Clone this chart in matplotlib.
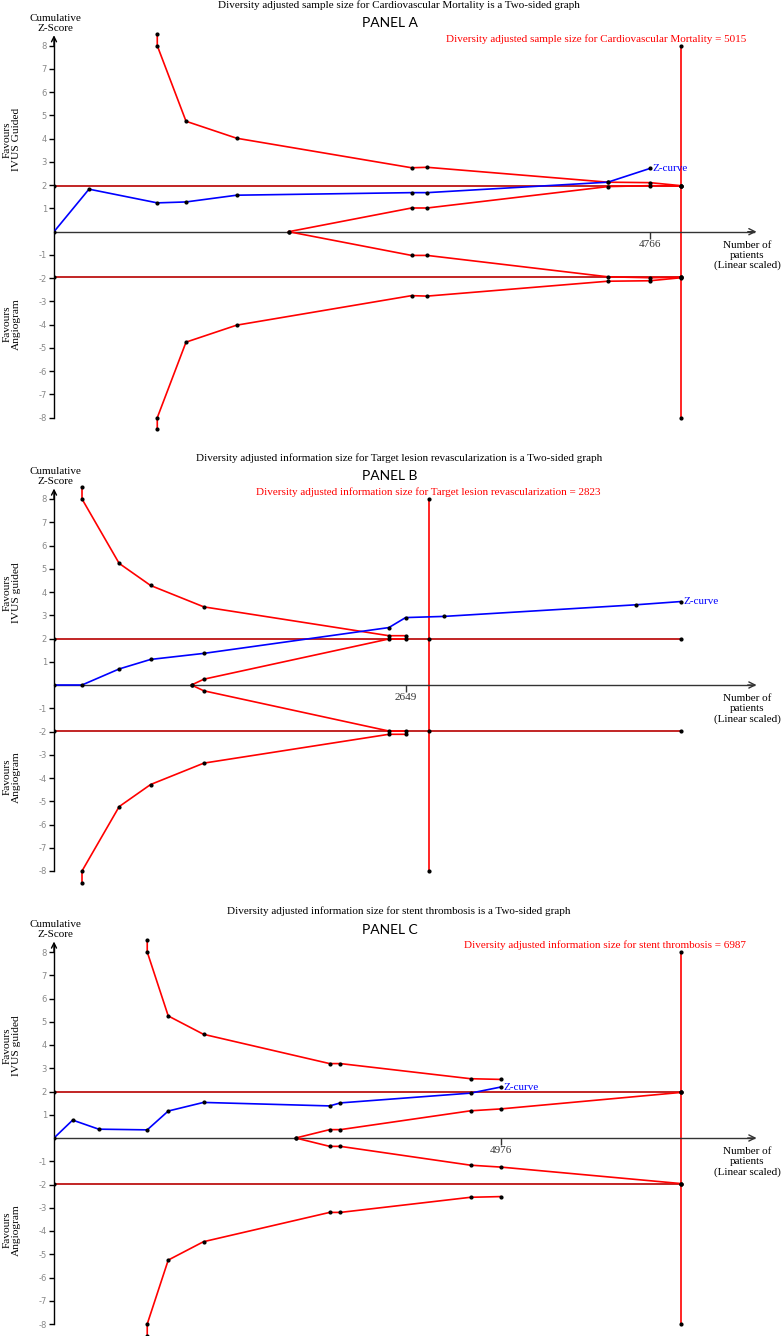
import numpy as np
import matplotlib
matplotlib.use('Agg')
import matplotlib.pyplot as plt

plt.rcParams['axes.unicode_minus'] = False

# ---- data ----
# Panel A: cardiovascular mortality
zA_n = [0, 280, 826, 1056, 1461, 2860, 2985, 4430, 4766]
zA = [0, 1.83, 1.24, 1.28, 1.57, 1.68, 1.68, 2.13, 2.72]
bA_n = [826, 826, 1056, 1461, 2860, 2985, 4430, 4766, 5015]
bA = [8.5, 8.0, 4.75, 4.02, 2.75, 2.77, 2.13, 2.11, 1.98]
fA_n = [1877, 2860, 2985, 4430, 4766, 5015]
fA = [0, 1.02, 1.02, 1.94, 1.98, 1.96]
infoA = 5015
tickA = 4766

# Panel B: target lesion revascularization
zB_n = [0, 211, 491, 728, 1129, 2523, 2649, 2937, 4385, 4724]
zB = [0, 0, 0.69, 1.10, 1.36, 2.47, 2.90, 2.95, 3.45, 3.59]
bB_n = [211, 211, 491, 728, 1129, 2523, 2649]
bB = [8.5, 8.0, 5.23, 4.28, 3.36, 2.12, 2.12]
fB_n = [1036, 1129, 2523, 2649]
fB = [0, 0.25, 1.98, 1.98]
infoB = 2823
tickB = 2649

# Panel C: stent thrombosis
zC_n = [0, 208, 498, 1039, 1273, 1666, 3072, 3192, 4642, 4976]
zC = [0, 0.77, 0.38, 0.35, 1.16, 1.53, 1.38, 1.51, 1.93, 2.19]
bC_n = [1039, 1039, 1273, 1666, 3072, 3192, 4642, 4976]
bC = [8.5, 8.0, 5.25, 4.46, 3.20, 3.20, 2.55, 2.52]
fC_n = [2694, 3072, 3192, 4642, 4976, 6987]
fC = [0, 0.36, 0.36, 1.17, 1.25, 1.96]
infoC = 6987
tickC = 4976

titles = ['Diversity adjusted sample size for Cardiovascular Mortality is a Two-sided graph',
          'Diversity adjusted information size for Target lesion revascularization is a Two-sided graph',
          'Diversity adjusted information size for stent thrombosis is a Two-sided graph']
info_texts = ['Diversity adjusted sample size for Cardiovascular Mortality = 5015',
              'Diversity adjusted information size for Target lesion revascularization = 2823',
              'Diversity adjusted information size for stent thrombosis = 6987']
panel_names = ['PANEL A', 'PANEL B', 'PANEL C']
favour_up = ['Favours\nIVUS Guided', 'Favours\nIVUS guided', 'Favours\nIVUS guided']
favour_down = 'Favours\nAngiogram'
z_bound = 1.96

panels = [
    (zA_n, zA, bA_n, bA, fA_n, fA, infoA, tickA),
    (zB_n, zB, bB_n, bB, fB_n, fB, infoB, tickB),
    (zC_n, zC, bC_n, bC, fC_n, fC, infoC, tickC),
]

# ---- layout (pixels) ----
W, H = 782, 1336
U = 23.25                      # pixels per z unit
zero_rows = [231.7, 685.0, 1138.0]
X0, XREF, XEND, XARROW = 54, 681, 760, 754
YTOP, YBOT = 8.9, 8.6
SERIF = 'Liberation Serif'
FS = 8


def fx(px):
    return px / W


def fy(py):
    return 1 - py / H


fig = plt.figure(figsize=(W / 100, H / 100), dpi=100)

for i, (zn, zv, bn, bv, fn, fv, info, tick) in enumerate(panels):
    y0 = zero_rows[i]
    top = y0 - YTOP * U
    bot = y0 + YBOT * U
    ax = fig.add_axes([fx(X0), fy(bot), (XEND - X0) / W, (bot - top) / H])
    xmax = max(info, zn[-1])
    ax.set_xlim(0, xmax * (XEND - X0) / (XREF - X0))
    ax.set_ylim(-YBOT, YTOP)
    ax.patch.set_alpha(0)
    x_arrow = xmax * (XARROW - X0) / (XREF - X0)

    for s in ['top', 'right']:
        ax.spines[s].set_visible(False)
    ax.spines['left'].set_bounds(-8, 8.3)
    ax.spines['left'].set_linewidth(1.0)
    ax.spines['bottom'].set_position(('data', 0))
    ax.spines['bottom'].set_bounds(0, x_arrow)
    ax.spines['bottom'].set_color('#333333')
    ax.spines['bottom'].set_linewidth(1.0)
    ax.annotate('', xy=(0, 8.45), xytext=(0, 8.0),
                arrowprops=dict(arrowstyle='->', lw=1.0, color='k', shrinkA=0, shrinkB=0,
                                mutation_scale=9))
    ax.annotate('', xy=(x_arrow + xmax * 0.004, 0), xytext=(x_arrow - xmax * 0.01, 0),
                arrowprops=dict(arrowstyle='->', lw=1.0, color='#333333', shrinkA=0, shrinkB=0,
                                mutation_scale=11))

    yt = [v for v in range(-8, 9) if v != 0]
    ax.set_yticks(yt, labels=[str(v) for v in yt])
    ax.tick_params(axis='y', direction='out', length=3.5, width=1, labelsize=6,
                   labelcolor='#888888', pad=1.5)
    ax.set_xticks([tick], labels=[str(tick)], fontfamily=SERIF, fontsize=FS)
    ax.tick_params(axis='x', direction='out', length=5, width=1, colors='#333333', pad=1)

    # significance lines +-1.96
    for sgn in (1, -1):
        ax.plot([0, xmax], [sgn * z_bound] * 2, color='#b80000', lw=1.2,
                marker='o', ms=2, mfc='k', mec='k', zorder=2)
    # required information size
    ax.plot([info, info], [-8, 8], color='#ff0000', lw=1.2, zorder=2)
    ax.plot([info] * 4, [-8, -z_bound, z_bound, 8], 'o', ms=2, color='k', zorder=4)

    # monitoring and futility boundaries
    for sgn in (1, -1):
        ax.plot(bn, [sgn * v for v in bv], color='#ff0000', lw=1.2,
                marker='o', ms=2, mfc='k', mec='k', zorder=3)
        ax.plot(fn, [sgn * v for v in fv], color='#ff0000', lw=1.2,
                marker='o', ms=2, mfc='k', mec='k', zorder=3)

    # cumulative Z-curve
    ax.plot(zn, zv, color='#0000ff', lw=1.2, marker='o', ms=2, mfc='k', mec='k', zorder=5)
    ax.annotate('Z-curve', (zn[-1], zv[-1]), xytext=(2, 0), textcoords='offset points',
                va='center', ha='left', color='#0000ff', fontfamily=SERIF, fontsize=FS)

    # texts
    fig.text(fx(399), fy(y0 - 226.7), titles[i], ha='center', va='center',
             fontfamily=SERIF, fontsize=FS)
    fig.text(fx(362), fy(y0 - 208.5), panel_names[i], ha='left', va='center',
             fontfamily='Lato', fontsize=10)
    if i == 1:
        info_px = X0 + (XREF - X0) * info / xmax
        fig.text(fx(info_px), fy(y0 - 193), info_texts[i], ha='center', va='center',
                 color='#ff0000', fontfamily=SERIF, fontsize=FS)
    else:
        fig.text(fx(746), fy(y0 - 193), info_texts[i], ha='right', va='center',
                 color='#ff0000', fontfamily=SERIF, fontsize=FS)
    fig.text(fx(55), fy(y0 - 208.5), 'Cumulative\nZ-Score', ha='center', va='center',
             fontfamily=SERIF, fontsize=FS, linespacing=1.1)
    fig.text(fx(12), fy(y0 - 92), favour_up[i], ha='center', va='center', rotation=90,
             fontfamily=SERIF, fontsize=FS + 0.2, linespacing=1.05)
    fig.text(fx(12), fy(y0 + 92), favour_down, ha='center', va='center', rotation=90,
             fontfamily=SERIF, fontsize=FS + 0.2, linespacing=1.05)
    fig.text(fx(747), fy(y0 + 24), 'Number of\npatients\n(Linear scaled)', ha='center',
             va='center', fontfamily=SERIF, fontsize=FS, linespacing=1.1)

fig.savefig('out.png', dpi=100)
